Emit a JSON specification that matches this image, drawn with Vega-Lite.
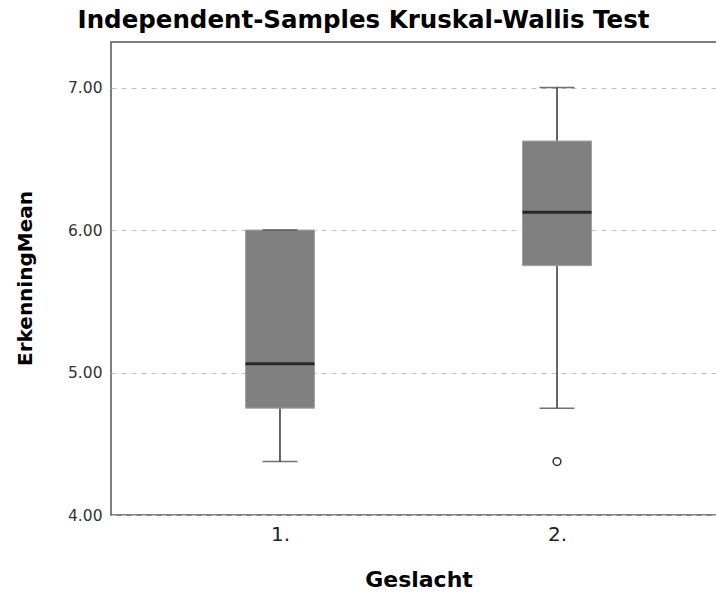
{
  "$schema": "https://vega.github.io/schema/vega-lite/v6.json",
  "autosize": {"type": "none"},
  "padding": {"left": 111, "top": 42, "right": 0, "bottom": 78},
  "width": 615,
  "height": 473,
  "background": "white",
  "title": {
    "text": "Independent-Samples Kruskal-Wallis Test",
    "font": "DejaVu Sans",
    "fontSize": 24.5,
    "fontWeight": "bold",
    "color": "#000000",
    "anchor": "middle",
    "dx": -55,
    "offset": 9
  },
  "config": {
    "view": {"stroke": "#555555", "strokeWidth": 1.5},
    "axis": {"domain": false, "ticks": false, "tickSize": 0}
  },
  "datasets": {
    "boxes": [
      {"group": "1.", "lower": 4.375, "q1": 4.75, "median": 5.0625, "q3": 6.0, "upper": 6.0},
      {"group": "2.", "lower": 4.75, "q1": 5.75, "median": 6.125, "q3": 6.625, "upper": 7.0}
    ],
    "outliers": [
      {"group": "2.", "value": 4.375}
    ]
  },
  "encoding": {
    "x": {
      "field": "group",
      "type": "nominal",
      "scale": {"type": "point", "padding": 0.61},
      "axis": {
        "title": "Geslacht",
        "labelAngle": 0,
        "labelFont": "DejaVu Sans",
        "labelFontSize": 20,
        "labelColor": "#222222",
        "labelPadding": 9,
        "titleFont": "DejaVu Sans",
        "titleFontSize": 22,
        "titleFontWeight": "bold",
        "titleColor": "#000000",
        "titlePadding": 25,
        "grid": false
      }
    }
  },
  "layer": [
    {
      "data": {"name": "boxes"},
      "mark": {"type": "rule", "color": "#333333", "strokeWidth": 1.5},
      "encoding": {
        "y": {
          "field": "lower",
          "type": "quantitative",
          "scale": {"domain": [4, 7.32], "nice": false, "zero": false},
          "axis": {
            "title": "ErkenningMean",
            "values": [4, 5, 6, 7],
            "format": ".2f",
            "labelFont": "DejaVu Sans",
            "labelFontSize": 15.5,
            "labelColor": "#333333",
            "labelPadding": 9,
            "grid": true,
            "gridDash": [5, 5],
            "gridColor": "#c0c0c0",
            "gridWidth": 1,
            "titleFont": "DejaVu Sans",
            "titleFontSize": 20,
            "titleFontWeight": "bold",
            "titleColor": "#000000",
            "titleX": -80,
            "titleY": 236,
            "titleBaseline": "alphabetic",
            "titleAngle": -90
          }
        },
        "y2": {"field": "upper"}
      }
    },
    {
      "data": {"name": "boxes"},
      "mark": {"type": "bar", "size": 69, "color": "#808080", "stroke": "#a0a0a0", "strokeWidth": 1},
      "encoding": {
        "y": {"field": "q1", "type": "quantitative"},
        "y2": {"field": "q3"}
      }
    },
    {
      "data": {"name": "boxes"},
      "mark": {"type": "tick", "orient": "horizontal", "size": 35, "thickness": 1.5, "color": "#333333"},
      "encoding": {"y": {"field": "lower", "type": "quantitative"}}
    },
    {
      "data": {"name": "boxes"},
      "mark": {"type": "tick", "orient": "horizontal", "size": 35, "thickness": 1.5, "color": "#333333"},
      "encoding": {"y": {"field": "upper", "type": "quantitative"}}
    },
    {
      "data": {"name": "boxes"},
      "mark": {"type": "tick", "orient": "horizontal", "size": 69, "thickness": 3, "color": "#000000"},
      "encoding": {"y": {"field": "median", "type": "quantitative"}}
    },
    {
      "data": {"name": "outliers"},
      "mark": {"type": "point", "shape": "circle", "size": 60, "filled": false, "stroke": "#333333", "strokeWidth": 1.5, "opacity": 1},
      "encoding": {"y": {"field": "value", "type": "quantitative"}}
    }
  ]
}
